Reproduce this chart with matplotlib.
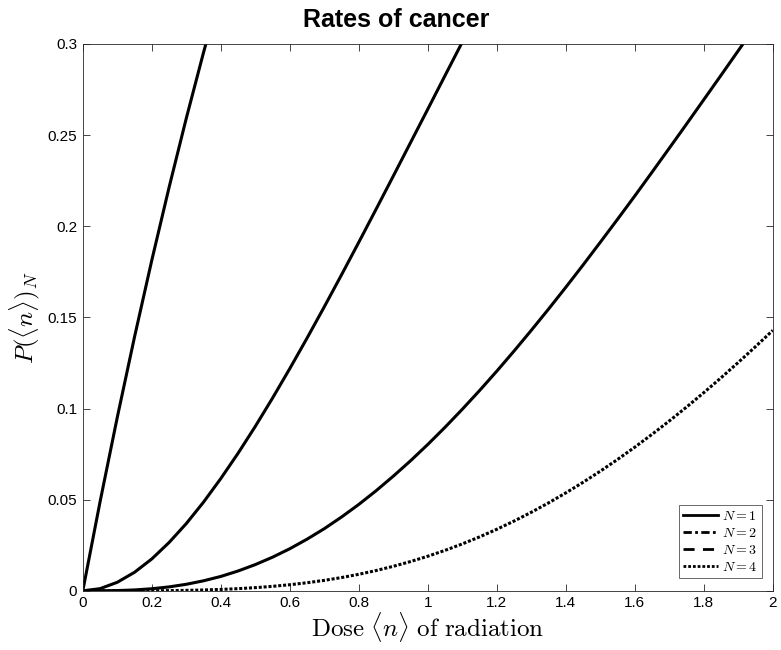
import matplotlib
matplotlib.use("Agg")
import matplotlib.pyplot as plt
from matplotlib.lines import Line2D

plt.rcParams['mathtext.fontset'] = 'cm'
plt.rcParams['font.family'] = ['Liberation Sans', 'DejaVu Sans']

# values
dose_n1 = [0.0, 0.05, 0.1, 0.15, 0.2, 0.25, 0.3, 0.35, 0.4, 0.45]
p_n1 = [0.0, 0.0488, 0.0952, 0.1393, 0.1813, 0.2212, 0.2592, 0.2953, 0.3297, 0.3624]

dose_n2 = [0.0, 0.05, 0.1, 0.15, 0.2, 0.25, 0.3, 0.35, 0.4, 0.45, 0.5, 0.55,
           0.6, 0.65, 0.7, 0.75, 0.8, 0.85, 0.9, 0.95, 1.0, 1.05, 1.1, 1.15, 1.2]
p_n2 = [0.0, 0.00121, 0.0047, 0.01019, 0.0175, 0.0265, 0.0369, 0.04867,
        0.0616, 0.07544, 0.0902, 0.10573, 0.1219, 0.13862, 0.1558, 0.17336,
        0.1912, 0.20928, 0.2275, 0.24586, 0.2642, 0.28263, 0.3010, 0.31923, 0.3374]

dose = [0.0, 0.05, 0.1, 0.15, 0.2, 0.25, 0.3, 0.35, 0.4, 0.45, 0.5,
        0.55, 0.6, 0.65, 0.7, 0.75, 0.8, 0.85, 0.9, 0.95, 1.0,
        1.05, 1.1, 1.15, 1.2, 1.25, 1.3, 1.35, 1.4, 1.45, 1.5,
        1.55, 1.6, 1.65, 1.7, 1.75, 1.8, 1.85, 1.9, 1.95, 2.0]
p_n3 = [0.0, 0.00002, 0.00016, 0.0005, 0.00115, 0.00216, 0.0036, 0.00551,
        0.0079, 0.01088, 0.0144, 0.01846, 0.0231, 0.02834, 0.0341, 0.0405,
        0.0474, 0.05488, 0.0629, 0.07134, 0.0803, 0.08972, 0.0996, 0.10985,
        0.1205, 0.13153, 0.1429, 0.15455, 0.1665, 0.17871, 0.1912, 0.20381,
        0.2166, 0.22964, 0.2428, 0.25603, 0.2694, 0.2828, 0.2963, 0.30979, 0.3233]
p_n4 = [0.0, 0.0000005, 0.000004, 0.00002, 0.000056, 0.00013, 0.00027, 0.00047,
        0.00078, 0.0012, 0.00175, 0.00247, 0.00336, 0.00445, 0.00575, 0.00729,
        0.00908, 0.01113, 0.01346, 0.01607, 0.01899, 0.02221, 0.02574, 0.02959,
        0.03377, 0.03827, 0.0431, 0.04825, 0.05373, 0.05953, 0.06564, 0.07207,
        0.07881, 0.08585, 0.09319, 0.10081, 0.10871, 0.11687, 0.1253, 0.13397, 0.14288]

labels = [r'$N=1$', r'$N=2$', r'$N=3$', r'$N=4$']
legend_styles = ['-', (0, (3, 1.2, 1, 1.2)), (0, (4, 3)), (0, (1, 0.7))]

fig = plt.figure(figsize=(7.81, 6.5), dpi=100)
ax = fig.add_axes([0.106, 0.091, 0.8835, 0.8415])

lw = 2.2
ax.plot(dose_n1, p_n1, color='k', lw=lw, ls='-')
ax.plot(dose_n2, p_n2, color='k', lw=lw, ls='-')
ax.plot(dose, p_n3, color='k', lw=lw, ls='-')
ax.plot(dose, p_n4, color='k', lw=lw, ls=(0, (1, 0.6)))

ax.set_xlim(0, 2)
ax.set_ylim(0, 0.3)
ax.set_xticks([0, 0.2, 0.4, 0.6, 0.8, 1, 1.2, 1.4, 1.6, 1.8, 2])
ax.set_xticklabels(['0', '0.2', '0.4', '0.6', '0.8', '1', '1.2', '1.4', '1.6', '1.8', '2'])
ax.set_yticks([0, 0.05, 0.1, 0.15, 0.2, 0.25, 0.3])
ax.set_yticklabels(['0', '0.05', '0.1', '0.15', '0.2', '0.25', '0.3'])
ax.tick_params(direction='in', top=True, right=True, labelsize=11,
               length=5, width=0.6, color='#262626', labelcolor='k', pad=4)
for s in ax.spines.values():
    s.set_color('#262626')
    s.set_linewidth(0.6)

ax.set_xlabel(r'$\mathrm{Dose}\ \langle n\rangle\ \mathrm{of\ radiation}$', fontsize=18, labelpad=0)
ax.set_ylabel(r'$P(\langle n\rangle)_N$', fontsize=18, labelpad=4)
fig.text(0.507, 0.958, 'Rates of cancer', fontsize=18, fontweight='bold',
         ha='center', va='baseline')

handles = [Line2D([0], [0], color='k', lw=2, ls=s) for s in legend_styles]
leg = ax.legend(handles, labels, loc='lower right', fontsize=10, frameon=True,
                fancybox=False, edgecolor='#262626', handlelength=2.5,
                handletextpad=0.3, borderpad=0.3, labelspacing=0.2,
                borderaxespad=0, bbox_to_anchor=(0.984, 0.024))
leg.get_frame().set_linewidth(0.6)

fig.savefig('out.png', dpi=100)
